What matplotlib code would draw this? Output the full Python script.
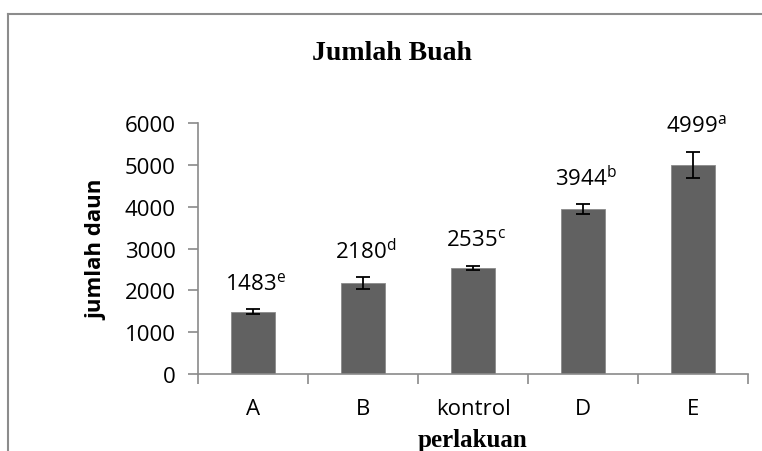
import matplotlib
matplotlib.use("Agg")
import matplotlib.pyplot as plt
from matplotlib.lines import Line2D

categories = ["A", "B", "kontrol", "D", "E"]
values = [1483, 2180, 2535, 3944, 4999]
errors = [60, 145, 55, 110, 315]
letters = ["e", "d", "c", "b", "a"]
yticks = [0, 1000, 2000, 3000, 4000, 5000, 6000]

fig = plt.figure(figsize=(7.62, 4.52), dpi=100)
ax = fig.add_axes([198/762, 1-375/452, 550/762, 251/452])

x = list(range(len(categories)))
ax.bar(x, values, width=0.4, color="#616161", edgecolor="#8a8a8a", linewidth=0.6, zorder=2)
ax.errorbar(x, values, yerr=errors, fmt="none", ecolor="black", elinewidth=1.3,
            capsize=4.7, capthick=1.3, zorder=3)

sans = "Open Sans"
fs = 16
for xi, v, e, l in zip(x, values, errors, letters):
    ax.annotate(f"{v}$^{{\\mathregular{{{l}}}}}$", (xi, v + e), xytext=(2, 19),
                textcoords="offset points", ha="center", va="center",
                fontsize=fs, family=sans)

ax.set_xlim(-0.5, 4.5)
ax.set_ylim(0, 6000)
ax.set_yticks(yticks)
ax.set_yticklabels([str(t) for t in yticks], fontsize=fs, family=sans)
ax.set_xticks(x)
ax.set_xticklabels(categories, fontsize=fs, family=sans)
ax.set_xticks([i - 0.5 for i in range(len(categories) + 1)], minor=True)
ax.tick_params(axis="x", which="major", length=0, pad=17)
ax.tick_params(axis="x", which="minor", length=7, width=1.2, color="#8a8a8a", direction="out")
ax.tick_params(axis="y", length=7, width=1.2, color="#8a8a8a", direction="out", pad=9)
for s in ["top", "right"]:
    ax.spines[s].set_visible(False)
for s in ["left", "bottom"]:
    ax.spines[s].set_color("#8a8a8a")
    ax.spines[s].set_linewidth(1.2)

fig.text(392/762, 1-53/452, "Jumlah Buah", family="Liberation Serif", fontweight="bold",
         fontsize=20, ha="center", va="center")
fig.text(97/762, 1-250/452, "jumlah daun", family=sans, fontweight="bold",
         fontsize=16, ha="center", va="center", rotation=90)
fig.text(472/762, 1-441/452, "perlakuan", family="Liberation Serif", fontweight="bold",
         fontsize=18, ha="center", va="center")

# outer chart border (left and top visible)
fig.add_artist(Line2D([8/762, 8/762], [0, 1-15/452], transform=fig.transFigure,
                      color="#8c8c8c", linewidth=1.5))
fig.add_artist(Line2D([8/762, 1], [1-15/452, 1-15/452], transform=fig.transFigure,
                      color="#8c8c8c", linewidth=1.5))

fig.savefig("out.png", dpi=100)
